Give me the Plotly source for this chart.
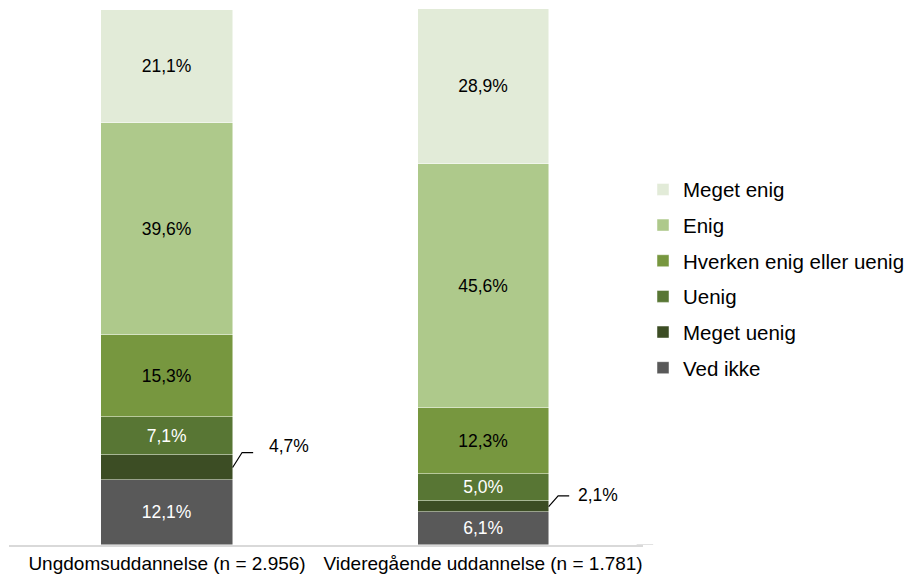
import plotly.graph_objects as go

categories = ["Ungdomsuddannelse (n = 2.956)", "Videregående uddannelse (n = 1.781)"]
series_names = ["Ved ikke", "Meget uenig", "Uenig", "Hverken enig eller uenig", "Enig", "Meget enig"]
ved_ikke = [12.1, 6.1]
meget_uenig = [4.7, 2.1]
uenig = [7.1, 5.0]
hverken = [15.3, 12.3]
enig = [39.6, 45.6]
meget_enig = [21.1, 28.9]

values = [ved_ikke, meget_uenig, uenig, hverken, enig, meget_enig]
colors = ["#595959", "#3C4D24", "#587634", "#77973F", "#AEC98B", "#E2EBD8"]
text_colors = ["white", "white", "white", "black", "black", "black"]
inside_label = [True, False, True, True, True, True]

FONT = "Liberation Sans, Arial, sans-serif"
BAR_W = 0.415


def fmt(v):
    return f"{v:.1f}".replace(".", ",") + "%"


fig = go.Figure()
n = len(series_names)
for i, (name, vals) in enumerate(zip(series_names, values)):
    fig.add_trace(go.Bar(
        x=categories, y=vals, name=name,
        marker=dict(color=colors[i], line=dict(color="rgba(255,255,255,0.6)", width=0.8)),
        width=BAR_W,
        text=[fmt(v) for v in vals] if inside_label[i] else None,
        textposition="inside" if inside_label[i] else "none",
        insidetextanchor="middle",
        textangle=0,
        textfont=dict(color=text_colors[i], size=17.5, family=FONT),
        legendgroup=name,
        legendrank=n - i,
        hoverinfo="skip",
    ))

# Leader lines and outside labels for the small "Meget uenig" segments
offsets = [dict(dy=2.8, ty=4.0, tx=0.11), dict(dy=2.0, ty=2.2, tx=0.085)]
for j, cat in enumerate(categories):
    base = ved_ikke[j]
    mid = base + meget_uenig[j] / 2
    x0 = j + BAR_W / 2
    o = offsets[j]
    fig.add_shape(type="path", xref="x", yref="y",
                  path=f"M {x0},{mid} L {x0 + 0.03},{mid + o['dy']} L {x0 + 0.065},{mid + o['dy']}",
                  line=dict(color="black", width=1.2))
    fig.add_annotation(x=x0 + o["tx"], y=mid + o["ty"], xref="x", yref="y",
                       text=fmt(meget_uenig[j]), showarrow=False, xanchor="left",
                       font=dict(size=17.5, color="black", family=FONT))

# extend the category axis line a little to the right, as in the original
fig.add_shape(type="line", xref="paper", yref="y", x0=0.99, x1=1.016, y0=0, y1=0,
              line=dict(color="#D9D9D9", width=1.5))

fig.update_layout(
    barmode="stack",
    width=906, height=572,
    margin=dict(l=1, r=271, t=1, b=35),
    paper_bgcolor="white", plot_bgcolor="white",
    font=dict(family=FONT, color="black"),
    bargap=0,
    uniformtext=dict(mode="show", minsize=17.5),
    legend=dict(
        traceorder="grouped",
        tracegroupgap=6,
        x=1.0, xanchor="left", y=0.497, yanchor="middle",
        font=dict(size=20.5, family=FONT, color="black"),
        itemwidth=30,
        bgcolor="rgba(0,0,0,0)",
    ),
    showlegend=True,
)
fig.update_xaxes(
    type="category", range=[-0.5, 1.506],
    showline=True, linecolor="#D9D9D9", linewidth=1.5,
    ticks="", showgrid=False,
    tickfont=dict(size=19, family=FONT, color="black"),
)
fig.update_yaxes(range=[0, 100], visible=False, showgrid=False)

fig.write_html("out.html")
